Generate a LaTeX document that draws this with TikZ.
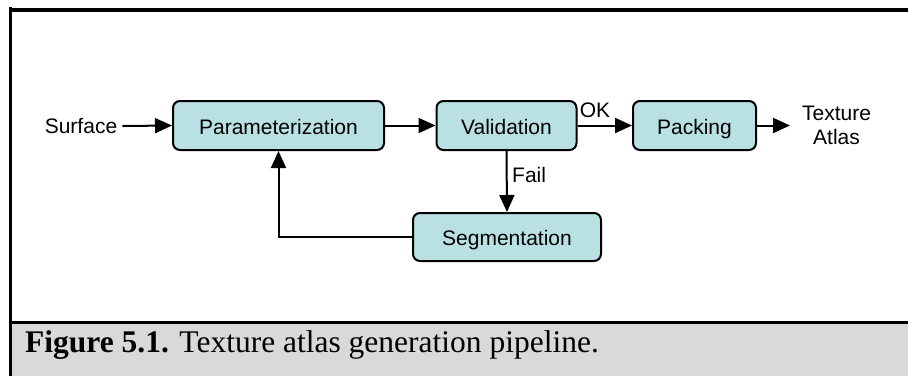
\documentclass[tikz,border=0pt]{standalone}
\usepackage{fontspec}
\setmainfont{Liberation Sans}
\newfontfamily\capfont{Liberation Serif}
\usetikzlibrary{arrows.meta}
\definecolor{boxfill}{HTML}{B9E0E3}
\definecolor{capgray}{HTML}{D9D9D9}
\begin{document}
\begin{tikzpicture}[x=1pt,y=-1pt,
  stage/.style={draw=black, line width=2pt, fill=boxfill, rounded corners=7pt,
    minimum height=49pt, inner sep=0pt, text height=17pt, text depth=0pt,
    font=\fontsize{21}{24}\selectfont},
  lbl/.style={inner sep=0pt, font=\fontsize{21}{24}\selectfont},
  flow/.style={line width=2pt, -{Triangle[length=17pt,width=15pt]}}]
  \useasboundingbox (0,0) rectangle (908,376);
  \fill[white] (0,0) rectangle (908,376);
  % caption band
  \fill[capgray] (12,323.5) rectangle (908,376);
  \draw[line width=4pt] (9,10) -- (908,10);
  \draw[line width=3pt] (10.5,7) -- (10.5,376);
  \draw[line width=3pt] (9,322) -- (908,322);
  \node[anchor=base west, inner sep=0pt, font=\capfont\fontsize{31.5}{36}\selectfont]
    (cap) at (25,352) {\textbf{Figure 5.1.} Texture atlas generation pipeline.};

  % pipeline stages
  \node[stage, minimum width=211pt] (param) at (278.5,125.5) {Parameterization};
  \node[stage, minimum width=140pt] (valid) at (506.5,125.5) {Validation};
  \node[stage, minimum width=123pt] (pack) at (694.5,125.5) {Packing};
  \node[stage, minimum width=188pt, minimum height=48pt] (seg) at (507,237) {Segmentation};

  \node[lbl, inner xsep=5pt] (surf) at (81,126) {Surface};
  \node[lbl, align=center] (atlas) at (836.5,125) {Texture\\Atlas};
  \coordinate (atlasin) at (790,125.5);

  \draw[flow] (surf.east) -- (param.west);
  \draw[flow] (param.east) -- (valid.west);
  \draw[flow] (valid.east) -- (pack.west);
  \draw[flow] (pack.east) -- (atlasin);
  \draw[flow] (valid.south) -- (seg.north);
  \draw[flow] (seg.west) -| (param.south);

  \node[lbl] (ok) at (595,110) {OK};
  \node[lbl, anchor=west] (fail) at (512,175) {Fail};
\end{tikzpicture}
\end{document}
